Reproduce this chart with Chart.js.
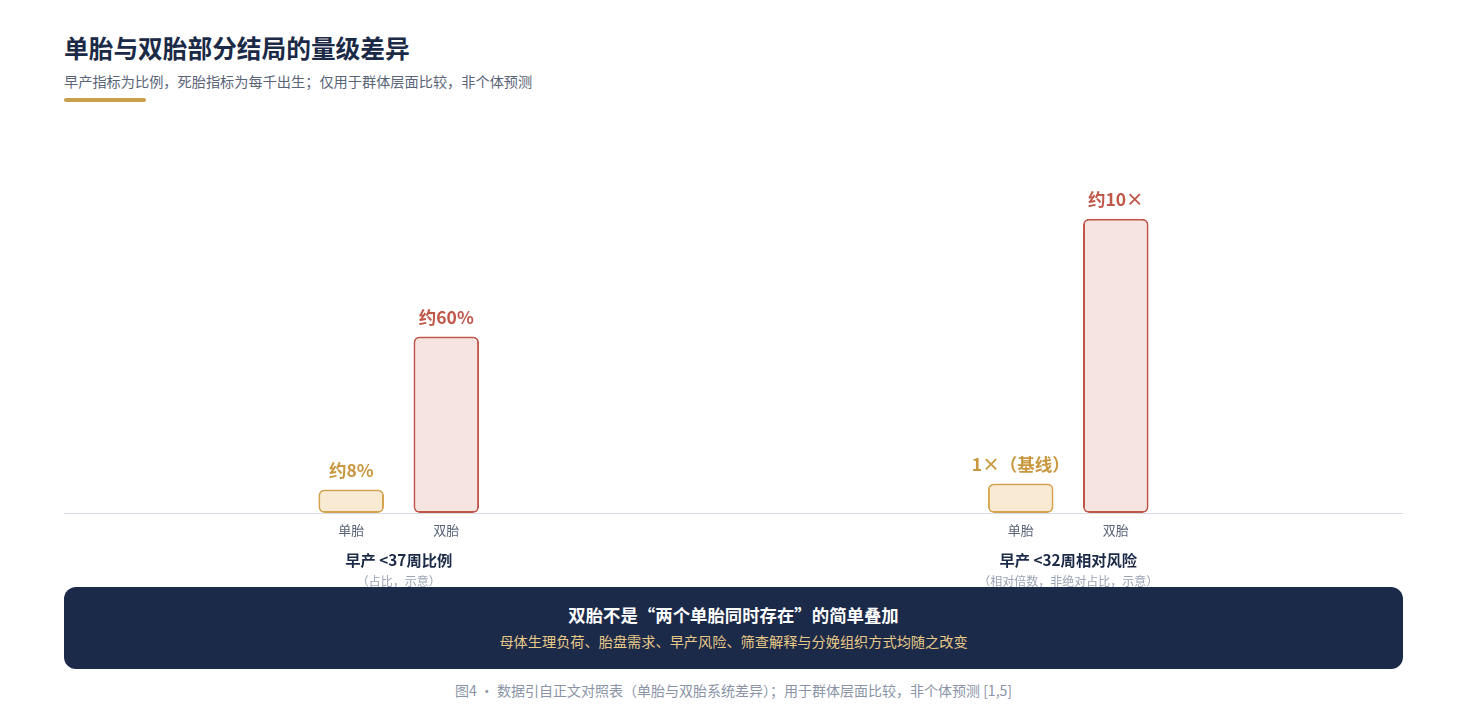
<!DOCTYPE html>
<html lang="zh">
<head>
<meta charset="utf-8">
<script src="https://cdn.jsdelivr.net/npm/chart.js@4.4.1/dist/chart.umd.min.js"></script>
<style>
  html, body { margin: 0; padding: 0; background: #fff; }
  body { width: 1467px; height: 715px; position: relative; overflow: hidden;
         font-family: "Noto Sans CJK SC", "Noto Sans", sans-serif; }
  .title { position: absolute; left: 64px; top: 30px; font-size: 24.7px; font-weight: 700; color: #1b2a47; line-height: 34px; }
  .subtitle { position: absolute; left: 64px; top: 71px; font-size: 14.2px; color: #5a6478; line-height: 20px; }
  .rule { position: absolute; left: 64px; top: 98px; width: 82px; height: 4px; border-radius: 2px; background: #c9a04c; }
  .chartBox { position: absolute; left: 64px; top: 120px; width: 1339px; height: 480px; }
  .banner { position: absolute; left: 64px; top: 587px; width: 1339px; height: 82px; border-radius: 12px;
            background: #1c2a4a; text-align: center; z-index: 2; }
  .banner .b1 { margin-top: 16px; font-size: 17.4px; font-weight: 700; color: #ffffff; line-height: 24px; }
  .banner .b2 { margin-top: 4px; font-size: 14.2px; color: #e8c987; line-height: 20px; }
  .caption { position: absolute; left: 0; width: 1467px; top: 680px; text-align: center; font-size: 14px; color: #8a94a6; line-height: 20px; }
</style>
</head>
<body>
<div class="title">单胎与双胎部分结局的量级差异</div>
<div class="subtitle">早产指标为比例，死胎指标为每千出生；仅用于群体层面比较，非个体预测</div>
<div class="rule"></div>
<div class="chartBox"><canvas id="chart"></canvas></div>
<div class="banner">
  <div class="b1">双胎不是“两个单胎同时存在”的简单叠加</div>
  <div class="b2">母体生理负荷、胎盘需求、早产风险、筛查解释与分娩组织方式均随之改变</div>
</div>
<div class="caption">图4 · 数据引自正文对照表（单胎与双胎系统差异）；用于群体层面比较，非个体预测 [1,5]</div>

<script>
/* ================== DATA ================== */
const categories = ["早产 <37周比例", "早产 <32周相对风险"];
const categoryNotes = ["（占比，示意）", "（相对倍数，非绝对占比，示意）"];
const seriesNames = ["单胎", "双胎"];

// raw values: % for first group, relative multiple for second group
const singleValues = [8, 1];
const twinValues = [60, 10];
// per-group display scale so both groups share one axis (示意)
const groupScale = [1, 10];

const singleLabels = ["约8%", "1×（基线）"];
const twinLabels = ["约60%", "约10×"];

/* ================== COLORS ================== */
const gold = "#c9973f";
const red = "#c0584a";
const navy = "#1b2a47";
const slate = "#5a6478";

/* ================== LABEL PLUGIN ================== */
const labelPlugin = {
  id: "labels",
  afterDatasetsDraw(chart) {
    const ctx = chart.ctx;
    const area = chart.chartArea;
    const valueLabels = [singleLabels, twinLabels];
    const labelColors = [gold, red];

    // baseline
    ctx.save();
    ctx.strokeStyle = "#d9dde7";
    ctx.lineWidth = 1;
    ctx.beginPath();
    ctx.moveTo(area.left, area.bottom + 0.5);
    ctx.lineTo(area.right, area.bottom + 0.5);
    ctx.stroke();

    ctx.textAlign = "center";
    ctx.textBaseline = "middle";

    chart.data.datasets.forEach((ds, di) => {
      const meta = chart.getDatasetMeta(di);
      meta.data.forEach((bar, i) => {
        // value label above bar
        ctx.font = "700 17.5px 'Noto Sans CJK SC', sans-serif";
        ctx.fillStyle = labelColors[di];
        ctx.fillText(valueLabels[di][i], bar.x, bar.y - 19);
        // series label under bar
        ctx.font = "400 13px 'Noto Sans CJK SC', sans-serif";
        ctx.fillStyle = slate;
        ctx.fillText(seriesNames[di], bar.x, area.bottom + 17);
      });
    });

    // category labels
    const xScale = chart.scales.x;
    categories.forEach((c, i) => {
      const x = xScale.getPixelForValue(i);
      ctx.font = "700 15.3px 'Noto Sans CJK SC', sans-serif";
      ctx.fillStyle = navy;
      ctx.fillText(c, x, area.bottom + 47);
      ctx.font = "400 12px 'Noto Sans CJK SC', sans-serif";
      ctx.fillStyle = "#9aa3b5";
      ctx.fillText(categoryNotes[i], x, area.bottom + 68);
    });
    ctx.restore();
  }
};

/* ================== CHART ================== */
new Chart(document.getElementById("chart"), {
  type: "bar",
  data: {
    labels: categories,
    datasets: [
      {
        label: seriesNames[0],
        data: singleValues.map((v, i) => v * groupScale[i]),
        backgroundColor: "#f8ead3",
        borderColor: "#d4a24c",
        borderWidth: 2,
        borderRadius: 6,
        borderSkipped: false
      },
      {
        label: seriesNames[1],
        data: twinValues.map((v, i) => v * groupScale[i]),
        backgroundColor: "#f6e4e0",
        borderColor: "#c0564a",
        borderWidth: 2,
        borderRadius: 6,
        borderSkipped: false
      }
    ]
  },
  options: {
    responsive: true,
    maintainAspectRatio: false,
    animation: false,
    categoryPercentage: 0.284,
    barPercentage: 0.69,
    layout: { padding: { top: 40, bottom: 87, left: 0, right: 0 } },
    plugins: { legend: { display: false }, tooltip: { enabled: false } },
    scales: {
      x: { display: false },
      y: { display: false, min: 0, max: 120 }
    }
  },
  plugins: [labelPlugin]
});
</script>
</body>
</html>
